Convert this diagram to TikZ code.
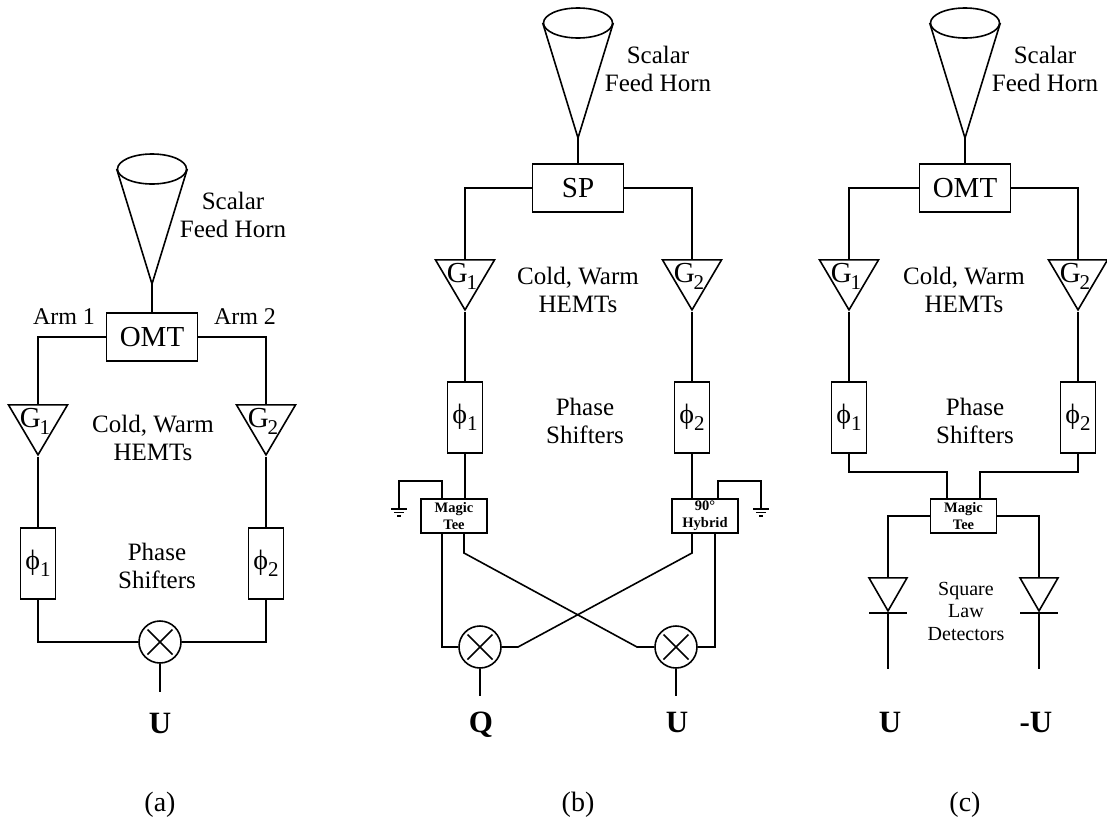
\documentclass[tikz,border=0pt]{standalone}
\usepackage{fontspec}
\setmainfont{Liberation Serif}
\usetikzlibrary{positioning, shapes.geometric}
\newcommand{\subdigit}[1]{\raisebox{-7pt}{\fontsize{21}{21}\selectfont #1}}

\begin{document}
\begin{tikzpicture}[
  x=1pt, y=-1pt,
  wire/.style={line width=1.6pt, line join=miter},
  txt/.style={align=center, inner sep=0pt, font=\fontsize{25}{28}\selectfont},
  smalltxt/.style={align=center, inner sep=0pt, font=\fontsize{20}{22.5}\selectfont},
  armtxt/.style={inner sep=0pt, font=\fontsize{24}{28}\selectfont},
  output/.style={inner sep=0pt, font=\bfseries\fontsize{31}{32}\selectfont},
  caption/.style={inner sep=0pt, font=\fontsize{28}{30}\selectfont},
  mouth/.style={ellipse, draw, line width=1.6pt, inner sep=0pt, minimum width=69pt, minimum height=30pt},
  splitbox/.style={rectangle, draw, line width=1.6pt, inner sep=0pt, minimum width=91pt, minimum height=48pt,
                   font=\fontsize{29}{30}\selectfont},
  phasebox/.style={rectangle, draw, line width=1.6pt, inner sep=0pt, minimum width=35pt, minimum height=71pt,
                   font=\fontsize{28}{30}\selectfont},
  teebox/.style={rectangle, draw, line width=1.6pt, inner sep=0pt, align=center, minimum width=66pt, minimum height=34pt,
                 font=\bfseries\fontsize{14.5}{17}\selectfont},
  amp/.style={isosceles triangle, isosceles triangle stretches, shape border rotate=270, draw, line width=1.6pt,
              inner sep=0pt, minimum width=59pt, minimum height=50pt, anchor=apex},
  diode/.style={isosceles triangle, isosceles triangle stretches, shape border rotate=270, draw, line width=1.6pt,
                inner sep=0pt, minimum width=38pt, minimum height=33pt, anchor=apex},
  gain/.style={inner sep=0pt, font=\fontsize{29}{30}\selectfont},
  mixer/.style={circle, draw, line width=1.6pt, inner sep=0pt, minimum size=42pt,
                path picture={\draw[wire] (path picture bounding box.center) +(-12.5,-12.5) -- +(12.5,12.5)
                              (path picture bounding box.center) +(-12.5,12.5) -- +(12.5,-12.5);}}
]
\useasboundingbox (0,0) rectangle (1107,825);

% panel a
\node[mouth] (ahorn) at (152,169) {};
\coordinate (atip) at (152,284);
\node[splitbox, below=28pt of atip] (aomt) {OMT};
\node[amp] (ag1) at (38,457) {};
\node[amp] (ag2) at (266,457) {};
\node[gain] (ag1txt) at (35,421) {G\hspace{-1pt}\subdigit{1}};
\node[gain] (ag2txt) at (263,421) {G\hspace{-1pt}\subdigit{2}};
\node[phasebox, below=70pt of ag1.apex] (aphi1) {ϕ\subdigit{1}};
\node[phasebox, below=70pt of ag2.apex] (aphi2) {ϕ\subdigit{2}};
\node[mixer] (amix) at (160,642) {};
\coordinate[below=28pt of amix] (aout);
\node[txt] (ahorntxt) at (233,215) {Scalar\\Feed Horn};
\node[armtxt] (aarm1) at (64,317) {Arm 1};
\node[armtxt] (aarm2) at (245,317) {Arm 2};
\node[txt] (acold) at (153,438) {Cold, Warm\\HEMTs};
\node[txt] (aphase) at (157,566) {Phase\\Shifters};
\node[output] (au) at (160,723) {U};
\node[caption] (acap) at (160,805) {(a)};
\draw[wire] (ahorn.west) -- (atip) -- (ahorn.east);
\draw[wire] (atip) -- (aomt);
\draw[wire] (aomt.west) -| (ag1.north);
\draw[wire] (aomt.east) -| (ag2.north);
\draw[wire] (ag1.apex) -- (aphi1);
\draw[wire] (ag2.apex) -- (aphi2);
\draw[wire] (aphi1.south) |- (amix.west);
\draw[wire] (aphi2.south) |- (amix.east);
\draw[wire] (amix) -- (aout);

% panel b
\node[mouth] (bhorn) at (578,23) {};
\coordinate (btip) at (578,138);
\node[splitbox, below=25pt of btip] (bsp) {SP};
\node[amp] (bg1) at (465,312) {};
\node[amp] (bg2) at (692,312) {};
\node[gain] (bg1txt) at (462,276) {G\hspace{-1pt}\subdigit{1}};
\node[gain] (bg2txt) at (689,276) {G\hspace{-1pt}\subdigit{2}};
\node[phasebox, below=69pt of bg1.apex] (bphi1) {ϕ\subdigit{1}};
\node[phasebox, below=69pt of bg2.apex] (bphi2) {ϕ\subdigit{2}};
\node[teebox] (bmagic) at (454,516) {Magic\\Tee};
\node[teebox] (bhybrid) at (705,516) {90°\\Hybrid};
\coordinate (bgnd1) at (399,509);
\coordinate (bgnd2) at (761,509);
\coordinate (bcross1) at (518,647);
\coordinate (bcross2) at (637,647);
\coordinate (bcross3) at (464,553);
\coordinate (bcross4) at (692,553);
\node[mixer] (bmix1) at (480,647) {};
\node[mixer] (bmix2) at (676,647) {};
\coordinate[below=27pt of bmix1] (bout1);
\coordinate[below=27pt of bmix2] (bout2);
\node[txt] (bhorntxt) at (658,69) {Scalar\\Feed Horn};
\node[txt] (bcold) at (578,290) {Cold, Warm\\HEMTs};
\node[txt] (bphase) at (585,421) {Phase\\Shifters};
\node[output] (bq) at (481,725) {Q};
\node[output] (bu) at (677,722) {U};
\node[caption] (bcap) at (578,805) {(b)};
\draw[wire] (bhorn.west) -- (btip) -- (bhorn.east);
\draw[wire] (btip) -- (bsp);
\draw[wire] (bsp.west) -| (bg1.north);
\draw[wire] (bsp.east) -| (bg2.north);
\draw[wire] (bg1.apex) -- (bphi1);
\draw[wire] (bg2.apex) -- (bphi2);
\draw[wire] (bphi1.south) -- (bphi1.south |- bmagic.north);
\draw[wire] (bphi2.south) -- (bphi2.south |- bhybrid.north);
\draw[wire] ([xshift=-12pt]bmagic.north) |- (399,481) -- (bgnd1);
\draw[wire] ([xshift=13pt]bhybrid.north) |- (761,481) -- (bgnd2);
\draw[wire] ([xshift=-8pt]bgnd1) -- ([xshift=8pt]bgnd1);
\draw[wire] ([xshift=-5pt,yshift=-3.5pt]bgnd1) -- ([xshift=5pt,yshift=-3.5pt]bgnd1);
\draw[wire] ([xshift=-2pt,yshift=-7pt]bgnd1) -- ([xshift=2pt,yshift=-7pt]bgnd1);
\draw[wire] ([xshift=-8pt]bgnd2) -- ([xshift=8pt]bgnd2);
\draw[wire] ([xshift=-5pt,yshift=-3.5pt]bgnd2) -- ([xshift=5pt,yshift=-3.5pt]bgnd2);
\draw[wire] ([xshift=-2pt,yshift=-7pt]bgnd2) -- ([xshift=2pt,yshift=-7pt]bgnd2);
\draw[wire] ([xshift=-12pt]bmagic.south) |- (bmix1.west);
\draw[wire] ([xshift=10pt]bhybrid.south) |- (bmix2.east);
\draw[wire] (bmagic.south -| bcross3) -- (bcross3) -- (bcross2) -- (bmix2.west);
\draw[wire] (bhybrid.south -| bcross4) -- (bcross4) -- (bcross1) -- (bmix1.east);
\draw[wire] (bmix1) -- (bout1);
\draw[wire] (bmix2) -- (bout2);

% panel c
\node[mouth] (chorn) at (965,23) {};
\coordinate (ctip) at (965,138);
\node[splitbox, below=25pt of ctip] (comt) {OMT};
\node[amp] (cg1) at (849,312) {};
\node[amp] (cg2) at (1078,312) {};
\node[gain] (cg1txt) at (846,276) {G\hspace{-1pt}\subdigit{1}};
\node[gain] (cg2txt) at (1075,276) {G\hspace{-1pt}\subdigit{2}};
\node[phasebox, below=69pt of cg1.apex] (cphi1) {ϕ\subdigit{1}};
\node[phasebox, below=69pt of cg2.apex] (cphi2) {ϕ\subdigit{2}};
\node[teebox] (cmagic) at (963.5,516) {Magic\\Tee};
\coordinate (cjoin1) at (849,472);
\coordinate (cjoin2) at (1078,472);
\node[diode] (cd1) at (888,613) {};
\node[diode] (cd2) at (1039,613) {};
\coordinate[below=56pt of cd1.apex] (cout1);
\coordinate[below=56pt of cd2.apex] (cout2);
\node[txt] (chorntxt) at (1045,69) {Scalar\\Feed Horn};
\node[txt] (ccold) at (964,290) {Cold, Warm\\HEMTs};
\node[txt] (cphase) at (975,421) {Phase\\Shifters};
\node[smalltxt] (csquare) at (966,611) {Square\\Law\\Detectors};
\node[output] (cu1) at (890,722) {U};
\node[output] (cu2) at (1036,722) {-U};
\node[caption] (ccap) at (965,805) {(c)};
\draw[wire] (chorn.west) -- (ctip) -- (chorn.east);
\draw[wire] (ctip) -- (comt);
\draw[wire] (comt.west) -| (cg1.north);
\draw[wire] (comt.east) -| (cg2.north);
\draw[wire] (cg1.apex) -- (cphi1);
\draw[wire] (cg2.apex) -- (cphi2);
\draw[wire] (cphi1.south) -- (cjoin1) -| ([xshift=-16.5pt]cmagic.north);
\draw[wire] (cphi2.south) -- (cjoin2) -| ([xshift=16.5pt]cmagic.north);
\draw[wire] (cmagic.west) -| (cd1.north);
\draw[wire] (cmagic.east) -| (cd2.north);
\draw[wire] ([xshift=-19pt]cd1.apex) -- ([xshift=19pt]cd1.apex);
\draw[wire] ([xshift=-19pt]cd2.apex) -- ([xshift=19pt]cd2.apex);
\draw[wire] (cd1.apex) -- (cout1);
\draw[wire] (cd2.apex) -- (cout2);
\end{tikzpicture}
\end{document}
